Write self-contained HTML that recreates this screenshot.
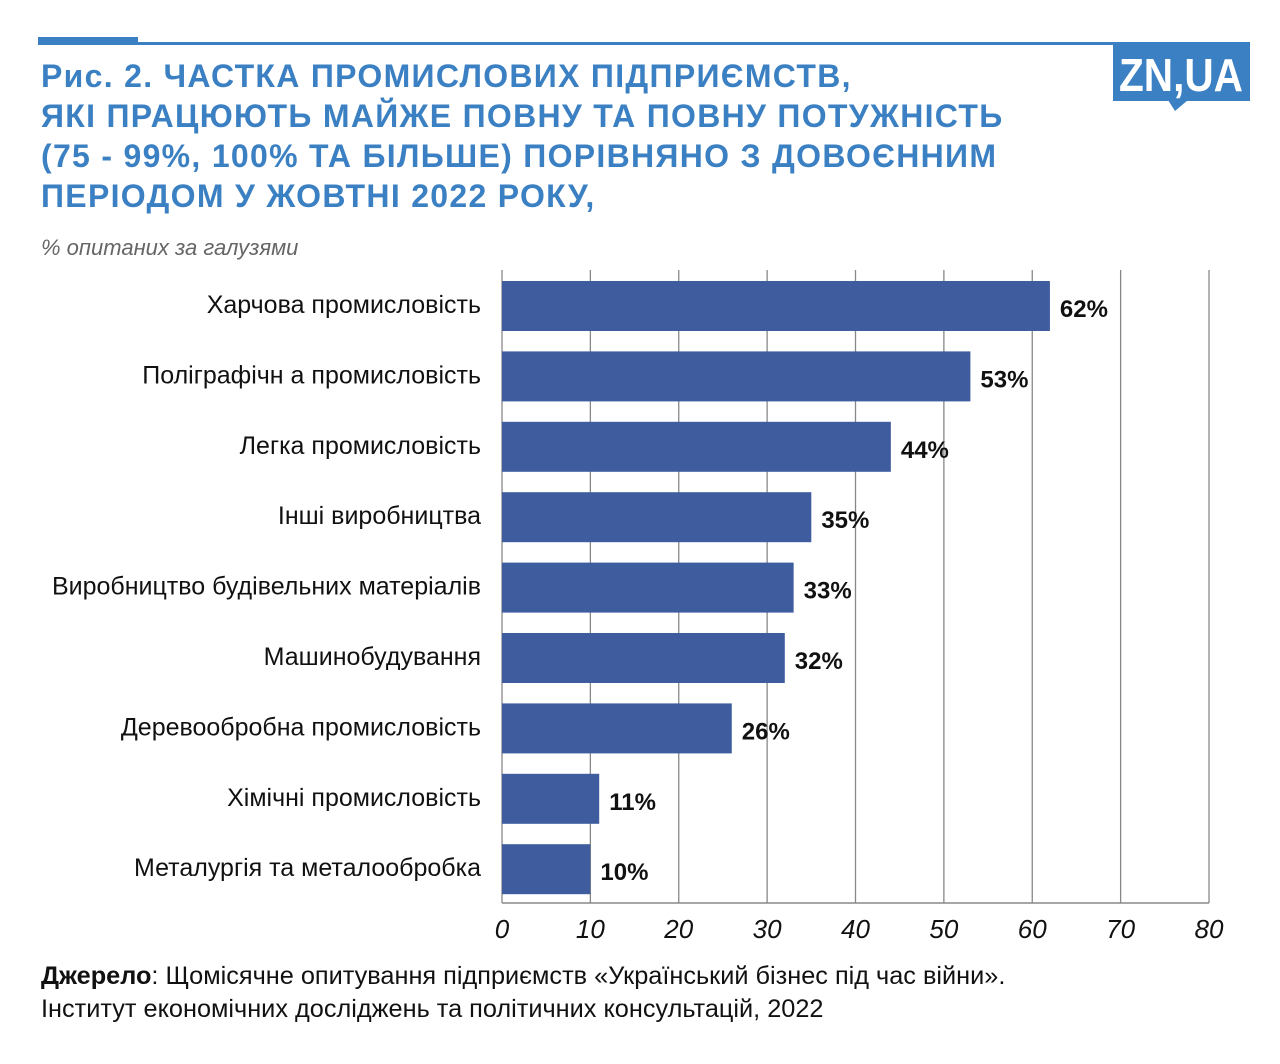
<!DOCTYPE html>
<html><head><meta charset="utf-8"><style>
body{margin:0;width:1280px;height:1064px;background:#fff;font-family:"Liberation Sans",sans-serif;position:relative;overflow:hidden}
.t{position:absolute;left:41px;top:56px;color:#3b80c2;font-weight:bold;font-size:32px;line-height:40px;letter-spacing:1.3px}
.sub{position:absolute;left:41px;top:235px;color:#666;font-style:italic;font-size:22px}
.src{position:absolute;left:41px;top:960px;font-size:25.3px;line-height:33px;color:#111}
</style></head><body>
<div style="position:absolute;left:38px;top:37px;width:100px;height:8px;background:#3b80c2"></div>
<div style="position:absolute;left:138px;top:42px;width:1112px;height:3px;background:#3b80c2"></div>
<svg style="position:absolute;left:1113px;top:44px" width="140" height="70"><rect x="0" y="0" width="137" height="57" fill="#3b80c2"/><polygon points="55,56 75,56 62,67" fill="#3b80c2"/><text x="68" y="47" text-anchor="middle" fill="#fff" font-weight="bold" font-size="46" font-family="Liberation Sans" textLength="124" lengthAdjust="spacingAndGlyphs">ZN,UA</text></svg>
<div class="t">Рис. 2. ЧАСТКА ПРОМИСЛОВИХ ПІДПРИЄМСТВ,<br>ЯКІ ПРАЦЮЮТЬ МАЙЖЕ ПОВНУ ТА ПОВНУ ПОТУЖНІСТЬ<br>(75 - 99%, 100% ТА БІЛЬШЕ) ПОРІВНЯНО З ДОВОЄННИМ<br>ПЕРІОДОМ У ЖОВТНІ 2022 РОКУ,</div>
<div class="sub">% опитаних за галузями</div>
<svg id="c" style="position:absolute;left:0;top:0" width="1280" height="960"></svg>
<div class="src"><b>Джерело</b>: Щомісячне опитування підприємств «Український бізнес під час війни».<br>Інститут економічних досліджень та політичних консультацій, 2022</div>
<script>
const categories=["Харчова промисловість","Поліграфічн а промисловість","Легка промисловість","Інші виробництва","Виробництво будівельних матеріалів","Машинобудування","Деревообробна промисловість","Хімічні промисловість","Металургія та металообробка"];
const values=[62,53,44,35,33,32,26,11,10];
const ticks=[0,10,20,30,40,50,60,70,80];
const svg=document.getElementById('c');const NS='http://www.w3.org/2000/svg';
const x0=502,x1=1209,plotTop=270,plotBottom=903,maxV=80;
const X=v=>x0+(x1-x0)*v/maxV;
const step=70.4,bh=50,y0=281;
const Y=i=>y0+i*step;
function mk(t,a){const e=document.createElementNS(NS,t);for(const k in a)e.setAttribute(k,a[k]);svg.appendChild(e);return e;}
ticks.forEach(t=>{
const g=mk('line',{x1:X(t),x2:X(t),y1:plotTop,y2:plotBottom,stroke:'#888','stroke-width':1.3});


const l=mk('text',{x:X(t),y:938,'text-anchor':'middle','font-size':26,'font-style':'italic',fill:'#111','font-family':'Liberation Sans'});l.textContent=t;


});
const ax=mk('line',{x1:x0,x2:x1,y1:plotBottom,y2:plotBottom,stroke:'#888','stroke-width':1.5});


categories.forEach((c,i)=>{
const r=mk('rect',{x:x0,y:Y(i),width:X(values[i])-x0,height:bh,fill:'#3f5d9e'});


const v=mk('text',{x:X(values[i])+10,y:Y(i)+36,'font-size':24,'font-weight':'bold',fill:'#111','font-family':'Liberation Sans'});v.textContent=values[i]+'%';


const l=mk('text',{x:481,y:Y(i)+32,'text-anchor':'end','font-size':25,fill:'#111','font-family':'Liberation Sans'});l.textContent=c;


});
</script>
</body></html>
